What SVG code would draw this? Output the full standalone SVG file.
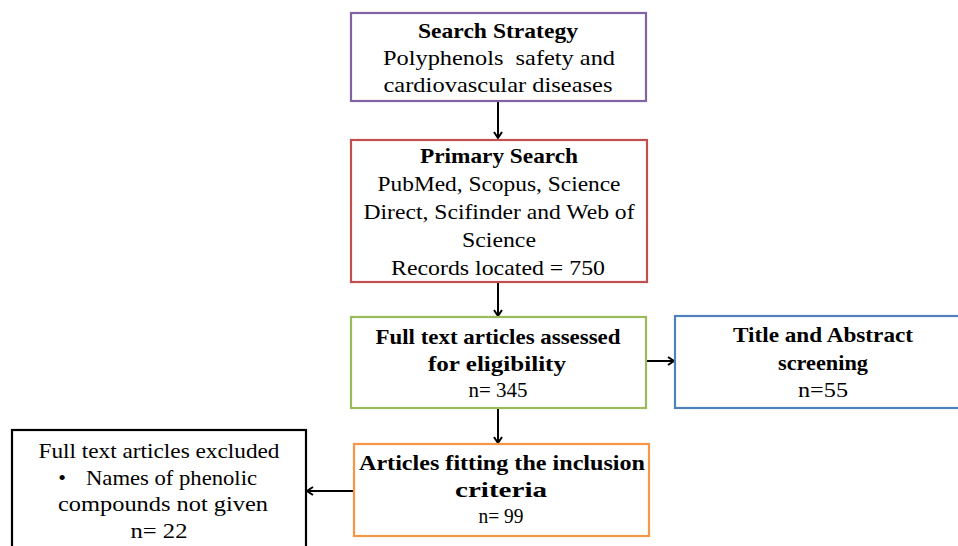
<svg xmlns="http://www.w3.org/2000/svg" width="958" height="546" viewBox="0 0 958 546">
<style>
.box{fill:#fff;stroke-width:2.2}
text{font-family:'Liberation Serif','DejaVu Serif','Times New Roman',serif;font-size:22px;fill:#000;text-anchor:middle}
.b{font-weight:bold}
.con{stroke:#000;stroke-width:2;fill:none;marker-end:url(#arr)}
</style>
<defs>
<marker id="arr" markerWidth="10" markerHeight="10" refX="7" refY="5" orient="auto" markerUnits="userSpaceOnUse">
<path d="M1,1 L7,5 L1,9" fill="none" stroke="#000" stroke-width="2"/>
</marker>
</defs>
<rect width="958" height="546" fill="#fff"/>
<g id="connectors">
<line class="con" x1="498" y1="101" x2="498" y2="138"/>
<line class="con" x1="498" y1="282" x2="498" y2="316"/>
<line class="con" x1="646" y1="361" x2="674" y2="361"/>
<line class="con" x1="498" y1="408" x2="498" y2="443"/>
<line class="con" x1="354" y1="491" x2="307" y2="491"/>
</g>
<g id="search-strategy">
<rect class="box" x="351" y="13" width="295" height="88" stroke="#8064a2"/>
<text class="b" x="498" y="38" textLength="160" lengthAdjust="spacingAndGlyphs">Search Strategy</text>
<text x="499" y="65" xml:space="preserve" textLength="232" lengthAdjust="spacingAndGlyphs">Polyphenols  safety and</text>
<text x="498" y="92" textLength="229" lengthAdjust="spacingAndGlyphs">cardiovascular diseases</text>
</g>
<g id="primary-search">
<rect class="box" x="351" y="140" width="296" height="142" stroke="#c0504d"/>
<text class="b" x="499" y="163" textLength="158" lengthAdjust="spacingAndGlyphs">Primary Search</text>
<text x="499" y="191" textLength="243" lengthAdjust="spacingAndGlyphs">PubMed, Scopus, Science</text>
<text x="499" y="219" textLength="271" lengthAdjust="spacingAndGlyphs">Direct, Scifinder and Web of</text>
<text x="499" y="247" textLength="74" lengthAdjust="spacingAndGlyphs">Science</text>
<text x="498" y="275" textLength="214" lengthAdjust="spacingAndGlyphs">Records located = 750</text>
</g>
<g id="full-text">
<rect class="box" x="351" y="317" width="295" height="91" stroke="#9bbb59"/>
<text class="b" x="498" y="344" textLength="245" lengthAdjust="spacingAndGlyphs">Full text articles assessed</text>
<text class="b" x="497" y="371" textLength="138" lengthAdjust="spacingAndGlyphs">for eligibility</text>
<text x="498" y="397" textLength="59" lengthAdjust="spacingAndGlyphs">n= 345</text>
</g>
<g id="title-abstract">
<rect class="box" x="675" y="316" width="290" height="92" stroke="#4f81bd"/>
<text class="b" x="823" y="342" textLength="180" lengthAdjust="spacingAndGlyphs">Title and Abstract</text>
<text class="b" x="823" y="370" textLength="90" lengthAdjust="spacingAndGlyphs">screening</text>
<text x="823" y="397" textLength="50" lengthAdjust="spacingAndGlyphs">n=55</text>
</g>
<g id="inclusion">
<rect class="box" x="354" y="444" width="295" height="92" stroke="#f79646"/>
<text class="b" x="502" y="470" textLength="286" lengthAdjust="spacingAndGlyphs">Articles fitting the inclusion</text>
<text class="b" x="501" y="497" textLength="92" lengthAdjust="spacingAndGlyphs">criteria</text>
<text x="501" y="523" textLength="45" lengthAdjust="spacingAndGlyphs">n= 99</text>
</g>
<g id="excluded">
<rect class="box" x="12" y="430" width="294" height="130" stroke="#000"/>
<text x="159" y="458" textLength="241" lengthAdjust="spacingAndGlyphs">Full text articles excluded</text>
<text x="62" y="485">•</text>
<text x="86" y="485" style="text-anchor:start" textLength="171" lengthAdjust="spacingAndGlyphs">Names of phenolic</text>
<text x="163" y="511" textLength="210" lengthAdjust="spacingAndGlyphs">compounds not given</text>
<text x="159" y="538" textLength="57" lengthAdjust="spacingAndGlyphs">n= 22</text>
</g>
</svg>
